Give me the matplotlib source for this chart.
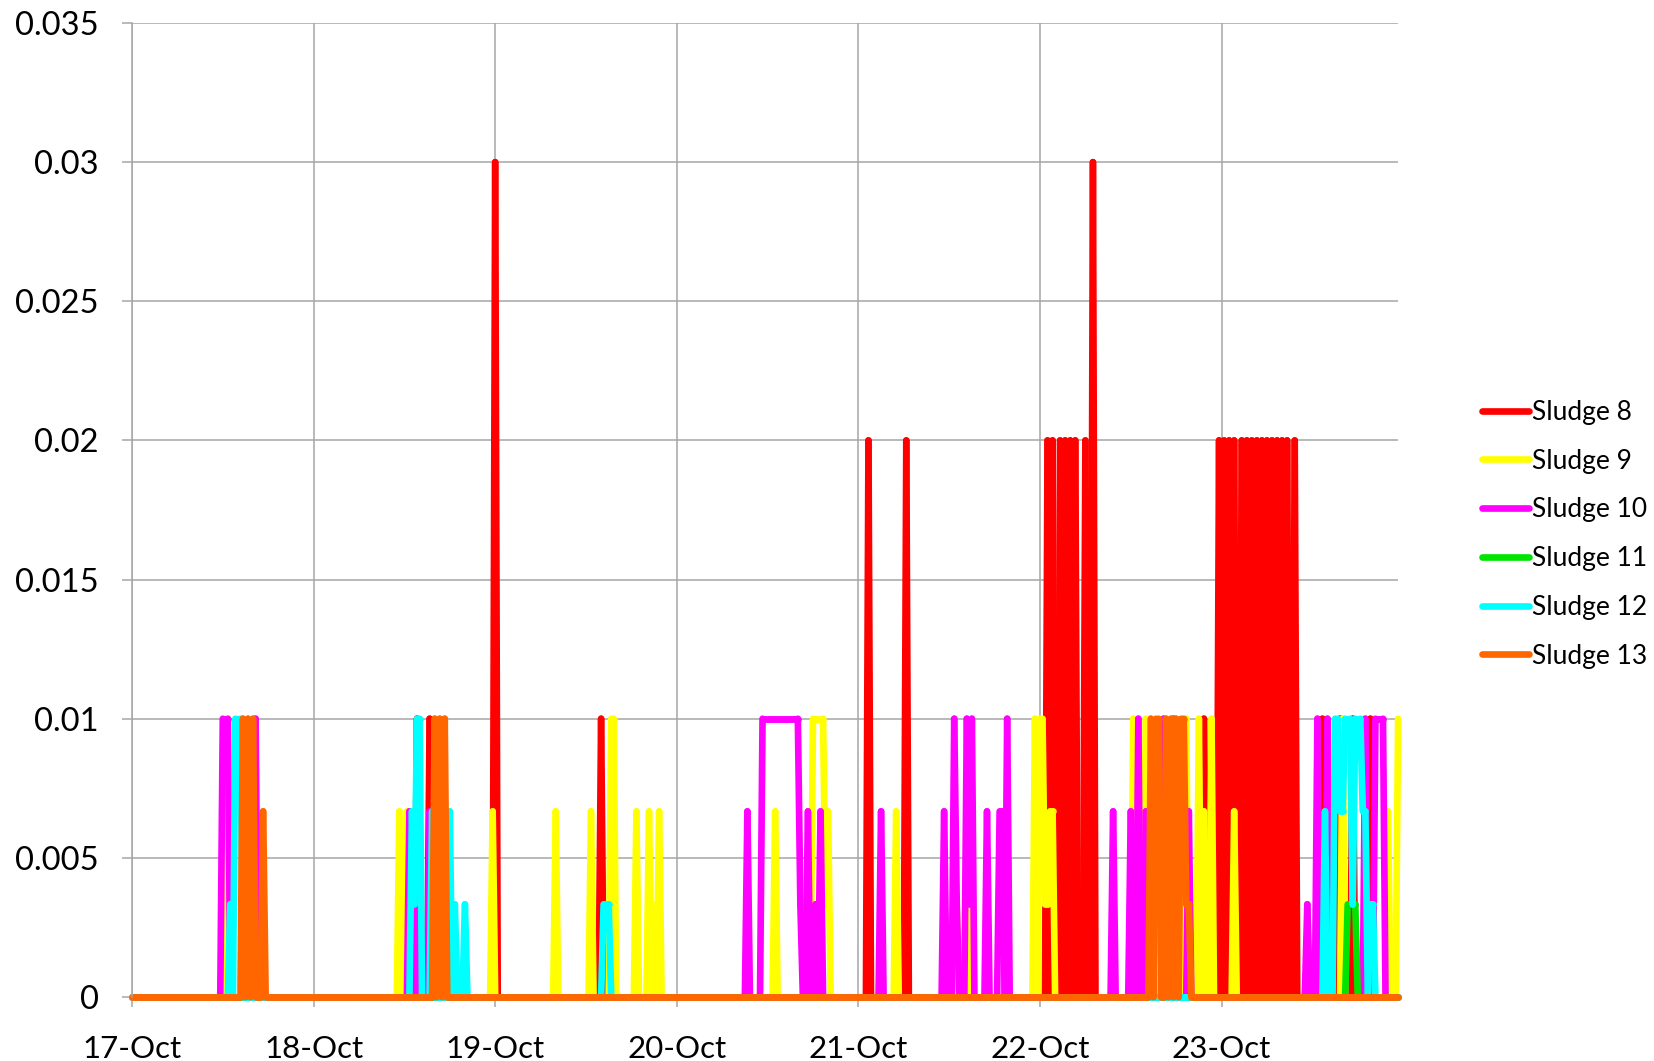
import numpy as np
import pandas as pd
import matplotlib
matplotlib.use("Agg")
import matplotlib.pyplot as plt
import matplotlib.dates as mdates
import matplotlib.ticker as ticker
from matplotlib.collections import LineCollection

plt.rcParams['font.family'] = ['Lato', 'DejaVu Sans']

# samples every 20 minutes from 17-Oct 00:00 to 23-Oct 23:20
times = pd.date_range("2011-10-17 00:00", periods=503, freq="20min")

# non-zero readings, hours after 17-Oct 00:00 (all other samples are 0)
s8_hours = [37.67, 39.33, 48.0, 62.0, 97.33, 102.33,
            121.0, 121.67, 122.67, 123.33, 124.0, 124.67, 126.0, 127.0,
            141.67, 142.0,
            143.67, 144.33, 145.0, 145.67, 146.67, 147.33, 148.0, 148.67,
            149.33, 150.0, 150.67, 151.33, 152.0, 152.67, 153.67,
            157.33, 159.67, 161.33, 163.67]
s8_vals = [0.01, 0.01, 0.03, 0.01, 0.02, 0.02,
           0.02, 0.02, 0.02, 0.02, 0.02, 0.02, 0.02, 0.03,
           0.01, 0.00333,
           0.02, 0.02, 0.02, 0.02, 0.02, 0.02, 0.02, 0.02,
           0.02, 0.02, 0.02, 0.02, 0.02, 0.02, 0.02,
           0.01, 0.01, 0.01, 0.01]

s9_hours = [12.67, 35.33, 36.33, 47.67, 56.0, 60.67, 63.33, 63.67, 66.67,
            68.33, 69.0, 69.67, 85.0,
            90.0, 90.33, 90.67, 91.0, 91.33, 91.67, 92.0,
            101.0, 109.0, 110.67,
            119.33, 120.0, 120.33, 120.67, 121.0, 121.33, 121.67,
            132.33, 133.67, 134.0, 139.33, 141.0, 141.67, 142.67, 145.67,
            160.0, 166.0, 167.33]
s9_vals = [0.01, 0.00667, 0.00667, 0.00667, 0.00667, 0.00667, 0.01, 0.01, 0.00667,
           0.00667, 0.00333, 0.00667, 0.00667,
           0.01, 0.01, 0.01, 0.01, 0.01, 0.00333, 0.00667,
           0.00667, 0.00333, 0.00667,
           0.01, 0.01, 0.01, 0.00333, 0.00333, 0.00667, 0.00667,
           0.01, 0.00333, 0.01, 0.01, 0.01, 0.00667, 0.01, 0.00667,
           0.01, 0.00667, 0.01]

s10_hours = [12.0, 12.33, 12.67, 16.33, 36.67, 37.67, 39.33, 81.33,
             83.33, 83.67, 84.0, 84.33, 84.67, 85.0, 85.33, 85.67, 86.0,
             86.33, 86.67, 87.0, 87.33, 87.67, 88.0,
             88.33, 89.33, 90.33, 91.0, 99.0,
             107.33, 108.67, 109.0, 110.33, 110.67, 111.0, 113.0, 114.67, 115.0, 115.67,
             129.67, 132.0, 133.0, 134.0, 136.33, 137.67, 139.67,
             155.33, 156.67, 158.0, 163.0, 164.33, 164.67, 165.0, 165.33]
s10_vals = [0.01, 0.01, 0.01, 0.01, 0.00667, 0.00333, 0.00667, 0.00667,
            0.01, 0.01, 0.01, 0.01, 0.01, 0.01, 0.01, 0.01, 0.01,
            0.01, 0.01, 0.01, 0.01, 0.01, 0.01,
            0.00333, 0.00667, 0.00333, 0.00667, 0.00667,
            0.00667, 0.01, 0.00333, 0.01, 0.00333, 0.01, 0.00667, 0.00667, 0.00667, 0.01,
            0.00667, 0.00667, 0.01, 0.00667, 0.01, 0.01, 0.00667,
            0.00333, 0.01, 0.01, 0.01, 0.01, 0.01, 0.01, 0.01]

s11_hours = [160.67, 161.0, 161.33, 161.67]
s11_vals = [0.00333, 0.00333, 0.00333, 0.00333]

s12_hours = [13.0, 13.67, 14.0, 14.33, 37.0, 37.33, 37.67, 38.0, 39.67, 42.0, 42.67, 44.0,
             62.33, 62.67, 63.0,
             157.67, 159.0, 159.33, 159.67, 160.0, 160.33, 160.67, 161.0, 161.33,
             161.67, 162.0, 162.33, 162.67, 163.0, 163.67, 164.0]
s12_vals = [0.00333, 0.01, 0.01, 0.01, 0.00667, 0.00333, 0.01, 0.01, 0.00667, 0.00667, 0.00333, 0.00333,
            0.00333, 0.00333, 0.00333,
            0.00667, 0.01, 0.01, 0.00667, 0.00667, 0.01, 0.01, 0.01, 0.00333,
            0.01, 0.01, 0.01, 0.00667, 0.00667, 0.00333, 0.00333]

s13_hours = [14.67, 15.33, 16.0, 17.33,
             40.0, 40.67, 41.33,
             134.67, 135.33, 135.67, 136.67, 137.33, 138.0, 138.67, 139.0, 139.33, 139.67]
s13_vals = [0.01, 0.01, 0.01, 0.00667,
            0.01, 0.01, 0.01,
            0.01, 0.01, 0.01, 0.01, 0.01, 0.01, 0.01, 0.01, 0.00333, 0.00333]

names = ["Sludge 8", "Sludge 9", "Sludge 10", "Sludge 11", "Sludge 12", "Sludge 13"]
colors = ["#FF0000", "#FFFF00", "#FF00FF", "#00E400", "#00FFFF", "#FF6600"]
events = [(s8_hours, s8_vals), (s9_hours, s9_vals), (s10_hours, s10_vals),
          (s11_hours, s11_vals), (s12_hours, s12_vals), (s13_hours, s13_vals)]


def build(hours, vals):
    y = np.zeros(len(times))
    y[np.rint(np.array(hours) * 3).astype(int)] = vals
    return y


fig = plt.figure(figsize=(16.54, 10.61), dpi=100)
ax = fig.add_axes([0.0798, 0.0603, 0.7655, 0.918])

xnum = mdates.date2num(times)
LW = 4.8
for (h, v), name, c in zip(events, names, colors):
    y = build(h, v)
    pts = np.column_stack([xnum, y])
    # each segment as its own path so overlapping strokes don't cancel out
    segs = np.stack([pts[:-1], pts[1:]], axis=1)
    lc = LineCollection(segs, colors=c, linewidths=LW, capstyle='round',
                        joinstyle='round', clip_on=False)
    ax.add_collection(lc)
    ax.plot([], [], color=c, lw=LW, solid_capstyle='round', label=name)

ax.xaxis_date()
ax.set_xlim(xnum[0], xnum[-1])
ax.set_ylim(0, 0.035)
ax.set_yticks(np.arange(0, 0.0351, 0.005))
ax.yaxis.set_major_formatter(ticker.FuncFormatter(lambda v, p: '%g' % round(v, 4)))
ax.xaxis.set_major_locator(mdates.DayLocator())
ax.xaxis.set_major_formatter(mdates.DateFormatter('%d-%b'))

ax.grid(True, color='#A6A6A6', lw=1.1)
ax.set_axisbelow(True)
for s in ['top', 'right', 'bottom']:
    ax.spines[s].set_visible(False)
ax.spines['left'].set_color('#A6A6A6')
ax.spines['left'].set_linewidth(1.1)
ax.tick_params(axis='both', direction='out', length=7, width=1.1, color='#A6A6A6')
ax.tick_params(axis='y', pad=17, labelsize=23.5)
ax.tick_params(axis='x', pad=20, labelsize=22.5)

fig.legend(loc='center left', bbox_to_anchor=(0.896, 0.4965), frameon=False, fontsize=19,
           handlelength=1.8, handletextpad=0.1, labelspacing=0.9, borderpad=0, borderaxespad=0)

fig.savefig("out.png", dpi=100)
